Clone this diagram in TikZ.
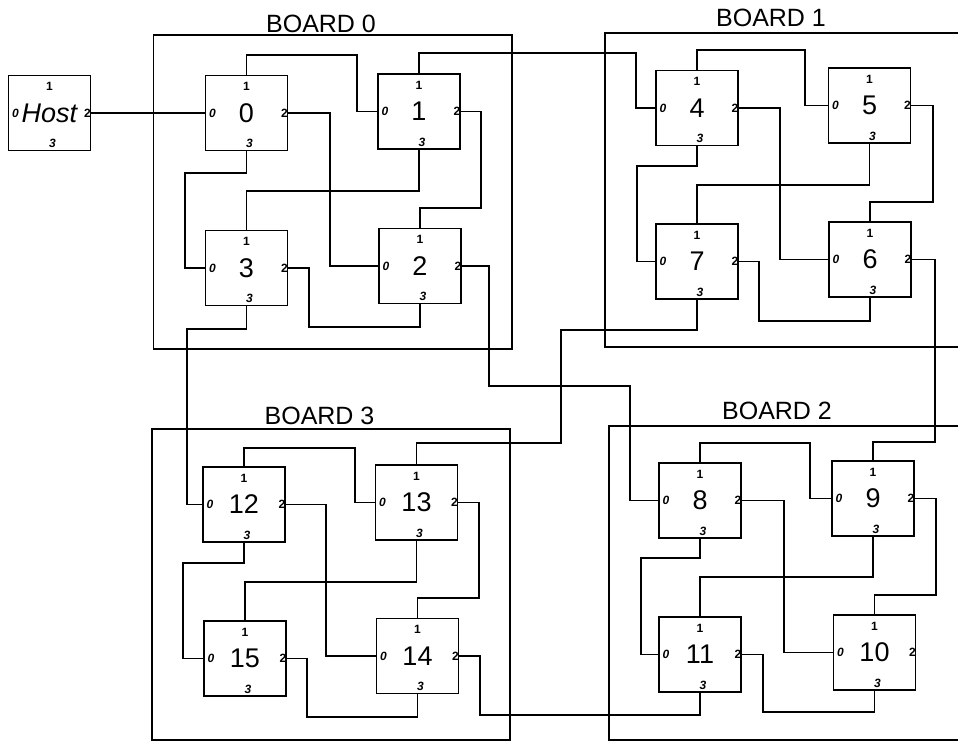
\documentclass[tikz,border=0pt]{standalone}
\usepackage{fontspec}
\setmainfont{Liberation Sans}
\tikzset{
  cpu/.style={draw, line width=1.9pt, minimum width=82pt, minimum height=75pt, inner sep=0pt, font=\fontsize{27}{27}\selectfont},
  portlbl/.style={inner sep=0pt, font=\fontsize{12}{12}\selectfont\bfseries},
  wire/.style={line width=1.7pt},
  board/.style={draw, line width=1.6pt},
  boardlbl/.style={font=\fontsize{25}{25}\selectfont, inner sep=0pt}
}
\newcommand\mknode[3]{%
  \node[cpu] (#1) at (#2) {#3};
  \node[portlbl] at ([yshift=-12pt]#1.north) {1};
  \node[portlbl] at ([xshift=3pt,yshift=8pt]#1.south) {\itshape 3};
  \node[portlbl] at ([xshift=8pt]#1.west) {\itshape 0};
  \node[portlbl] at ([xshift=-4pt]#1.east) {2};
}
\begin{document}
\begin{tikzpicture}[x=1pt,y=-1pt]
\useasboundingbox (0,0) rectangle (958,743);
\clip (0,0) rectangle (958,743);
% boards
\draw[board] (153.5,35) rectangle (512,349);
\draw[board] (605,33) rectangle (975,347);
\draw[board] (152,429) rectangle (510,740);
\draw[board] (609,426) rectangle (975,740);
\node[boardlbl] (b0) at (321,23.5) {BOARD 0};
\node[boardlbl] (b1) at (771,17.5) {BOARD 1};
\node[boardlbl] (b3) at (319.5,415.5) {BOARD 3};
\node[boardlbl] (b2) at (777,411) {BOARD 2};
% nodes
\mknode{host}{49.5,113}{\itshape Host}
\mknode{n0}{246.5,113}{0}
\mknode{n1}{419,111.5}{1}
\mknode{n3}{246.5,268}{3}
\mknode{n2}{420,266}{2}
\mknode{n4}{697,108}{4}
\mknode{n5}{869.5,105.5}{5}
\mknode{n7}{697,261.5}{7}
\mknode{n6}{870,259.5}{6}
\mknode{n8}{700,500.5}{8}
\mknode{n9}{873,498.5}{9}
\mknode{n11}{700,654.5}{11}
\mknode{n10}{874.5,652.5}{10}
\mknode{n12}{244,504.5}{12}
\mknode{n13}{416.5,502.5}{13}
\mknode{n15}{245,658.5}{15}
\mknode{n14}{417.5,656}{14}
% board 0 wiring
\draw[wire] (host.east) -- (n0.west);
\draw[wire] (n0.north) |- (357,55) |- (n1.west);
\draw[wire] (n0.east) -| (330,200) |- (n2.west);
\draw[wire] (n0.south) |- (185,173) |- (n3.west);
\draw[wire] (n1.south) |- (300,191) -| (n3.north);
\draw[wire] (n1.east) -| (481,180) |- (440,208) -| (n2.north);
\draw[wire] (n3.east) -| (309,300) |- (350,327) -| (n2.south);
\draw[wire] (n3.south) |- (187,329) |- (n12.west);
\draw[wire] (n2.east) -| (489,350) |- (630,386) |- (n8.west);
\draw[wire] (n1.north) |- (636,53) |- (n4.west);
% board 1 wiring
\draw[wire] (n4.north) |- (805,50) |- (n5.west);
\draw[wire] (n4.east) -| (780,200) |- (n6.west);
\draw[wire] (n4.south) |- (637,166) |- (n7.west);
\draw[wire] (n5.south) |- (780,185) -| (n7.north);
\draw[wire] (n5.east) -| (933,150) |- (900,202) -| (n6.north);
\draw[wire] (n7.east) -| (759,300) |- (800,321) -| (n6.south);
\draw[wire] (n7.south) |- (561,330) -- (561,443) -| (n13.north);
\draw[wire] (n6.east) -| (935,400) |- (900,442) -| (n9.north);
% board 2 wiring
\draw[wire] (n8.north) |- (810,443) |- (n9.west);
\draw[wire] (n8.east) -| (784,600) |- (n10.west);
\draw[wire] (n8.south) |- (641,558) |- (n11.west);
\draw[wire] (n9.south) |- (800,577) -| (n11.north);
\draw[wire] (n9.east) -| (936,550) |- (900,595) -| (n10.north);
\draw[wire] (n11.east) -| (763,690) |- (800,712) -| (n10.south);
\draw[wire] (n11.south) |- (480,715) |- (n14.east);
% board 3 wiring
\draw[wire] (n12.north) |- (355,448) |- (n13.west);
\draw[wire] (n12.east) -| (326,600) |- (n14.west);
\draw[wire] (n12.south) |- (183,563) |- (n15.west);
\draw[wire] (n13.south) |- (300,582) -| (n15.north);
\draw[wire] (n13.east) -| (479,560) |- (440,598) -| (n14.north);
\draw[wire] (n15.east) -| (307,690) |- (350,717) -| (n14.south);
\end{tikzpicture}
\end{document}
